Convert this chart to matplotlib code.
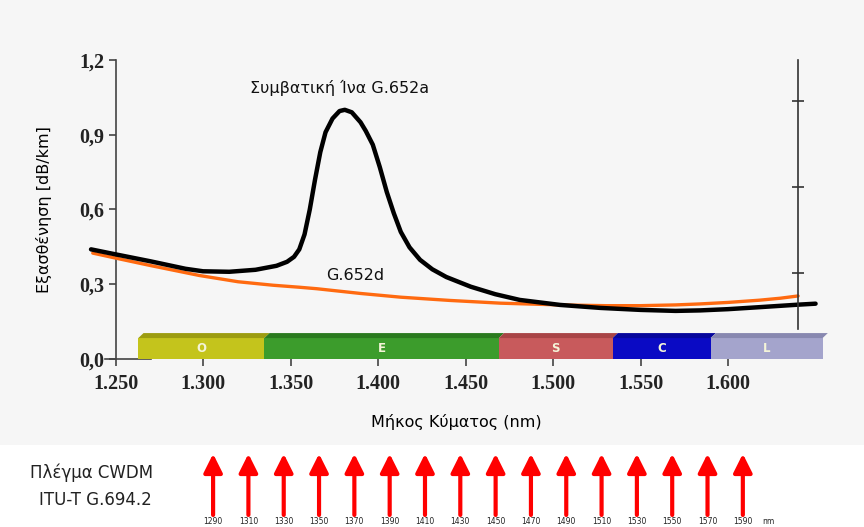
import matplotlib
matplotlib.use("Agg")
from matplotlib import pyplot as plt
from matplotlib.patches import Polygon, Rectangle

# G.652a (black) attenuation curve
wl_a = [1236, 1250, 1270, 1290, 1300, 1315, 1330, 1342, 1348, 1352, 1355, 1358,
        1361, 1364, 1367, 1370, 1374, 1378, 1381, 1385, 1390, 1393, 1397, 1401,
        1405, 1409, 1413, 1418, 1424, 1431, 1439, 1453, 1467, 1481, 1504, 1527,
        1550, 1570, 1584, 1600, 1618, 1640, 1650]
att_a = [0.440, 0.420, 0.392, 0.362, 0.352, 0.350, 0.358, 0.374, 0.390, 0.410,
         0.440, 0.500, 0.600, 0.720, 0.830, 0.910, 0.965, 0.995, 1.000, 0.990,
         0.950, 0.915, 0.860, 0.770, 0.670, 0.585, 0.510, 0.448, 0.398, 0.360,
         0.329, 0.290, 0.260, 0.237, 0.217, 0.205, 0.197, 0.193, 0.195, 0.200,
         0.208, 0.218, 0.222]

# G.652d (orange)
wl_d = [1237, 1250, 1270, 1298, 1320, 1340, 1355, 1365, 1390, 1413, 1441, 1470,
        1504, 1530, 1550, 1570, 1584, 1600, 1618, 1630, 1640]
att_d = [0.425, 0.405, 0.375, 0.335, 0.310, 0.296, 0.288, 0.282, 0.263, 0.248,
         0.235, 0.224, 0.217, 0.214, 0.214, 0.217, 0.221, 0.227, 0.236, 0.244,
         0.253]

# optical bands
band_names = ["O", "E", "S", "C", "L"]
band_start = [1263, 1335, 1469, 1534, 1590]
band_end = [1335, 1469, 1534, 1590, 1654]
band_colors = ["#c4c41c", "#3c9c2c", "#c85a5c", "#0a0ac4", "#a4a4cc"]
band_tops = ["#9c9c10", "#2a7a1e", "#a84446", "#06069c", "#8888b0"]

x_ticks = [1250, 1300, 1350, 1400, 1450, 1500, 1550, 1600]
x_ticklabels = ["1.250", "1.300", "1.350", "1.400", "1.450", "1.500", "1.550", "1.600"]
y_ticks = [0.0, 0.3, 0.6, 0.9, 1.2]
y_ticklabels = ["0,0", "0,3", "0,6", "0,9", "1,2"]

# CWDM grid
cwdm = [1290, 1310, 1330, 1350, 1370, 1390, 1410, 1430, 1450, 1470, 1490, 1510,
        1530, 1550, 1570, 1590]

fig = plt.figure(figsize=(8.64, 5.27), dpi=100)
fig.patch.set_facecolor("white")
fig.patches.append(Rectangle((0, 0.155), 1, 0.845, transform=fig.transFigure,
                             facecolor="#f6f6f6", edgecolor="none", zorder=-10))

ax = fig.add_axes([0.1337, 0.3188, 0.790, 0.5674])
ax.set_facecolor("none")
ax.set_xlim(1250, 1640)
ax.set_ylim(0, 1.2)

# bands with a little bevel on top
h = 0.084
t = 0.020
d = 3
for name, x0, x1, c, ct in zip(band_names, band_start, band_end, band_colors, band_tops):
    ax.add_patch(Rectangle((x0, 0), x1 - x0, h, facecolor=c, edgecolor="none",
                           zorder=3, clip_on=False))
    ax.add_patch(Polygon([(x0, h), (x0 + d, h + t), (x1 + d, h + t), (x1, h)],
                         closed=True, facecolor=ct, edgecolor="none", zorder=3,
                         clip_on=False))
    ax.text((x0 + x1) / 2, h / 2, name, color="#f4f4d8", fontsize=8.5,
            fontweight="bold", ha="center", va="center", zorder=4)

ax.plot(wl_d, att_d, color="#ff6a10", lw=2.4, zorder=5, clip_on=False,
        solid_capstyle="round")
ax.plot(wl_a, att_a, color="black", lw=3.2, zorder=6, clip_on=False,
        solid_capstyle="round", solid_joinstyle="round")

ax.text(1378, 1.088, "Συμβατική Ίνα G.652a", fontsize=11.5, ha="center",
        va="center", color="#111111")
ax.text(1387, 0.337, "G.652d", fontsize=11.5, ha="center", va="center",
        color="#111111")

ax.spines["top"].set_visible(False)
ax.spines["right"].set_visible(False)
for s in ["left", "bottom"]:
    ax.spines[s].set_color("#444444")
    ax.spines[s].set_linewidth(1.2)
ax.spines["bottom"].set_bounds(1244, 1270)

ax.set_xticks(x_ticks)
ax.set_xticklabels(x_ticklabels, fontfamily="Liberation Serif", fontweight="bold",
                   fontsize=14.5, color="#222222")
ax.set_yticks(y_ticks)
ax.set_yticklabels(y_ticklabels, fontfamily="Liberation Serif", fontweight="bold",
                   fontsize=14.5, color="#222222")
ax.tick_params(axis="both", direction="out", length=5, width=1.2, color="#444444")
ax.tick_params(axis="x", pad=6)
ax.tick_params(axis="y", pad=3)
ax.set_xlabel("Μήκος Κύματος (nm)", fontsize=11.5, labelpad=14)
ax.set_ylabel("Εξασθένηση [dB/km]", fontsize=11.5, labelpad=20)

# secondary right axis (no labels)
ax_r = ax.twinx()
ax_r.set_ylim(0, 3.48)
ax_r.set_yticks([1, 2, 3])
ax_r.set_yticklabels([])
for s in ["top", "left", "bottom"]:
    ax_r.spines[s].set_visible(False)
ax_r.spines["right"].set_color("#333333")
ax_r.spines["right"].set_linewidth(1.2)
ax_r.spines["right"].set_bounds(0.35, 3.48)
ax_r.tick_params(axis="y", direction="inout", length=8, width=1.2, color="#333333")

# CWDM grid arrows
ax2 = fig.add_axes([0.2262, 0.0, 0.654, 0.156])
ax2.set_xlim(-0.5, len(cwdm) - 0.5)
ax2.set_ylim(0, 82)
ax2.axis("off")
for i, w in enumerate(cwdm):
    ax2.annotate("", xy=(i, 73), xytext=(i, 12),
                 arrowprops=dict(arrowstyle="-|>,head_length=0.8,head_width=0.4",
                                 color="#ff0000", lw=3.0, mutation_scale=14,
                                 shrinkA=0, shrinkB=0))
    ax2.text(i, 5, str(w), fontsize=5.5, ha="center", va="center", color="#222222")
ax2.text(len(cwdm) - 0.45, 5, "nm", fontsize=5.5, ha="left", va="center",
         color="#222222")

fig.text(0.106, 0.103, "Πλέγμα CWDM", fontsize=12, ha="center", va="center",
         color="#222222")
fig.text(0.110, 0.052, "ITU-T G.694.2", fontsize=12, ha="center", va="center",
         color="#222222")

fig.savefig("out.png", dpi=100)
